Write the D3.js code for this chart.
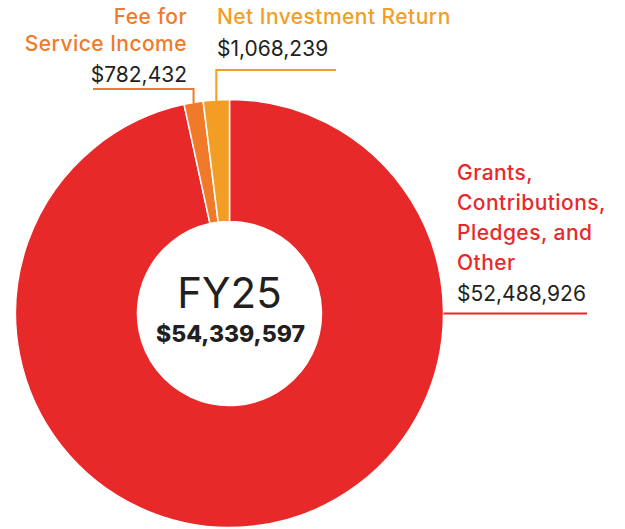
<!DOCTYPE html>
<html>
<head>
<meta charset="utf-8">
<script src="https://cdn.jsdelivr.net/npm/d3@7"></script>
<style>
  body { margin: 0; background: #fff; }
  text { font-family: Inter, "Open Sans", sans-serif; }
</style>
</head>
<body>
<div id="chart"></div>
<script>
// revenue sources FY25
var categories = ['Grants, Contributions, Pledges, and Other', 'Fee for Service Income', 'Net Investment Return'];
var values = [52488926, 782432, 1068239];
var colors = ['#e8292a', '#f07a2a', '#f29e24'];
var label_lines = [['Grants,', 'Contributions,', 'Pledges, and', 'Other'], ['Fee for', 'Service Income'], ['Net Investment Return']];
var center_title = 'FY25';
var total = d3.sum(values);

var W = 625, H = 529;
var cx = 229.5, cy = 313.5, r_out = 214, r_in = 92;
var fmt = d => '$' + d3.format(',')(d);

var svg = d3.select('#chart').append('svg').attr('width', W).attr('height', H);
var g = svg.append('g').attr('transform', 'translate(' + cx + ',' + cy + ')');

var pie = d3.pie().sort(null).value(d => d);
var arcs = pie(values);
var arc = d3.arc().innerRadius(r_in).outerRadius(r_out);

g.selectAll('path.slice').data(arcs).enter().append('path')
    .attr('class', 'slice')
    .attr('d', arc)
    .attr('fill', (d, i) => colors[i])
    .attr('stroke', '#fff').attr('stroke-width', 1.5);

// point on outer edge at the middle of a slice
function edge(d) {
    var a = (d.startAngle + d.endAngle) / 2;
    return [cx + r_out * Math.sin(a), cy - r_out * Math.cos(a)];
}

var dark = '#231f20';
var fs = 21, ls = 0.45;

// Grants - label on the right, leader along horizontal
var gp = [cx + r_out, cy];
svg.append('path').attr('d', 'M' + gp[0] + ',' + gp[1] + 'H587')
    .attr('stroke', colors[0]).attr('stroke-width', 2).attr('fill', 'none');
label_lines[0].forEach((t, j) => {
    svg.append('text').attr('x', 457).attr('y', 180 + j * 30).text(t)
        .attr('fill', colors[0]).attr('font-size', fs).attr('font-weight', 500).attr('letter-spacing', ls);
});
svg.append('text').attr('x', 457).attr('y', 301).text(fmt(values[0]))
    .attr('fill', dark).attr('font-size', fs);

// Fee for service - label up left
var fp = edge(arcs[1]);
svg.append('path').attr('d', 'M' + fp[0] + ',' + (fp[1] + 1) + 'V89H93')
    .attr('stroke', colors[1]).attr('stroke-width', 2).attr('fill', 'none');
label_lines[1].forEach((t, j) => {
    svg.append('text').attr('x', 187).attr('y', 24 + j * 27).text(t)
        .attr('text-anchor', 'end')
        .attr('fill', colors[1]).attr('font-size', fs).attr('font-weight', 500).attr('letter-spacing', ls);
});
svg.append('text').attr('x', 187).attr('y', 82).text(fmt(values[1]))
    .attr('text-anchor', 'end').attr('fill', dark).attr('font-size', fs);

// Net investment - label up right
var np = edge(arcs[2]);
svg.append('path').attr('d', 'M' + np[0] + ',' + (np[1] + 1) + 'V70H336')
    .attr('stroke', colors[2]).attr('stroke-width', 2).attr('fill', 'none');
svg.append('text').attr('x', 217).attr('y', 24).text(label_lines[2][0])
    .attr('fill', colors[2]).attr('font-size', fs).attr('font-weight', 500).attr('letter-spacing', ls);
svg.append('text').attr('x', 217).attr('y', 56).text(fmt(values[2]))
    .attr('fill', dark).attr('font-size', fs);

// center
svg.append('text').attr('x', cx).attr('y', 308).text(center_title)
    .attr('text-anchor', 'middle').attr('fill', dark).attr('font-size', 42);
svg.append('text').attr('x', cx + 1).attr('y', 342).text(fmt(total))
    .attr('text-anchor', 'middle').attr('fill', dark).attr('font-size', 23).attr('font-weight', 800);
</script>
</body>
</html>
